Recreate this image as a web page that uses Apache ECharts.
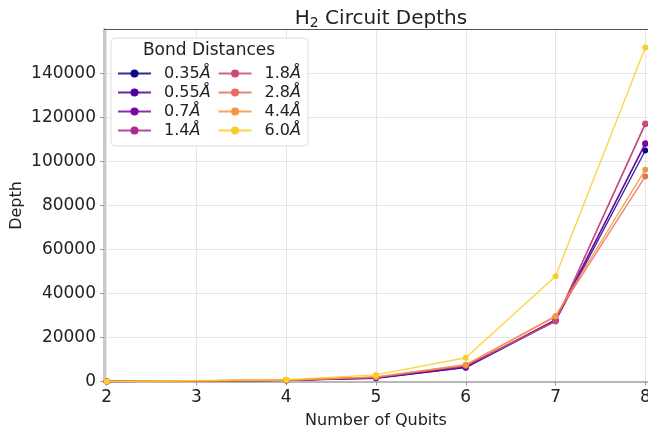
<!DOCTYPE html>
<html>
<head>
<meta charset="utf-8">
<script src="https://cdn.jsdelivr.net/npm/echarts@6/dist/echarts.min.js"></script>
<style>html,body{margin:0;padding:0;background:#fff}#c{width:648px;height:428px}</style>
</head>
<body>
<div id="c"></div>
<script>
const qubits = [2, 4, 5, 6, 7, 8];
const bondNames = ['0.35Å', '0.55Å', '0.7Å', '1.4Å', '1.8Å', '2.8Å', '4.4Å', '6.0Å'];
const d035 = [15, 500, 1500, 6300, 27500, 105000];
const d055 = [15, 520, 1600, 6500, 28000, 108000];
const d07  = [15, 540, 1700, 6700, 28000, 108300];
const d14  = [15, 560, 1800, 7000, 27500, 117000];
const d18  = [15, 580, 1900, 7200, 27300, 117300];
const d28  = [15, 600, 2000, 7500, 29500, 93200];
const d44  = [15, 620, 2100, 7600, 29800, 96300];
const d60  = [20, 800, 3000, 10800, 47800, 151800];
const xTicks = [2, 3, 4, 5, 6, 7, 8];
const colors = ['#0d0887', '#4c02a1', '#7e03a8', '#ae2892', '#cd4a76', '#e76f5a', '#f89540', '#fcce25'];

const allData = [d035, d055, d07, d14, d18, d28, d44, d60];
const FONT = 'DejaVu Sans';

const chart = echarts.init(document.getElementById('c'));
chart.setOption({
  animation: false,
  textStyle: { fontFamily: FONT },
  title: {
    text: 'H{s|2} Circuit Depths',
    left: 376, top: 3, textAlign: 'center',
    textStyle: { fontFamily: FONT, fontSize: 20, fontWeight: 'normal', color: '#222',
      rich: { s: { fontSize: 14, verticalAlign: 'bottom', padding: [8, 0, 0, 0], fontFamily: FONT, color: '#222' } } }
  },
  grid: { left: 104, right: 0, top: 29.5, bottom: 46.5, containLabel: false, outerBoundsMode: 'none' },
  xAxis: {
    type: 'value', min: 1.97, max: 8.03,
    name: 'Number of Qubits', nameLocation: 'middle', nameGap: 31,
    nameTextStyle: { fontFamily: FONT, fontSize: 16, color: '#222' },
    axisLine: { show: true, lineStyle: { color: '#b8b8b8', width: 2 } },
    axisTick: { show: true, length: 4, lineStyle: { color: '#999' }, customValues: xTicks },
    axisLabel: { fontFamily: FONT, fontSize: 17, color: '#222', margin: 8, customValues: xTicks, hideOverlap: false },
    splitLine: { show: true, lineStyle: { color: '#e6e6e6', width: 1 } }
  },
  yAxis: {
    type: 'value', min: 0, max: 160000, interval: 20000,
    name: 'Depth', nameLocation: 'middle', nameGap: 79, nameRotate: 90, nameMoveOverlap: false,
    nameTextStyle: { fontFamily: FONT, fontSize: 16, color: '#222' },
    axisLine: { show: true, lineStyle: { color: '#c8c8c8', width: 3 } },
    axisTick: { show: true, length: 4, lineStyle: { color: '#999' } },
    axisLabel: { fontFamily: FONT, fontSize: 17, color: '#222', margin: 8, showMaxLabel: false,
      formatter: v => String(v) },
    splitLine: { show: true, lineStyle: { color: '#e6e6e6', width: 1 } }
  },
  legend: {
    orient: 'vertical', left: 111, top: 38, height: 80,
    itemWidth: 33, itemHeight: 10, itemGap: 0,
    padding: [26, 0, 6, 6],
    backgroundColor: '#fff', borderColor: '#dcdcdc', borderWidth: 1, borderRadius: 4,
    data: bondNames,
    formatter: n => '{t|' + n.replace('Å', '}{i|Å}'),
    textStyle: { fontFamily: FONT, fontSize: 16, color: '#222', lineHeight: 19,
      rich: {
        t: { fontFamily: FONT, fontSize: 16, color: '#222', padding: [0, 0, 0, 8] },
        i: { fontStyle: 'italic', fontFamily: FONT, fontSize: 16, color: '#222', padding: [0, 7, 0, 0] }
      } }
  },
  graphic: [
    { type: 'line', shape: { x1: 104, y1: 29.5, x2: 648, y2: 29.5 }, style: { stroke: '#555', lineWidth: 1 }, z: 100 },
    { type: 'text', x: 209, y: 51, z: 100,
      style: { text: 'Bond Distances', fontFamily: FONT, fontSize: 17, fill: '#222', align: 'center', verticalAlign: 'middle' } }
  ],
  series: allData.map((arr, i) => ({
    name: bondNames[i], type: 'line',
    data: qubits.map((q, j) => [q, arr[j]]),
    symbol: 'circle', symbolSize: 6, showSymbol: true,
    color: colors[i],
    lineStyle: { width: 1.4, opacity: 0.85 },
    itemStyle: { color: colors[i] },
    z: 2 + i
  }))
});
</script>
</body>
</html>
